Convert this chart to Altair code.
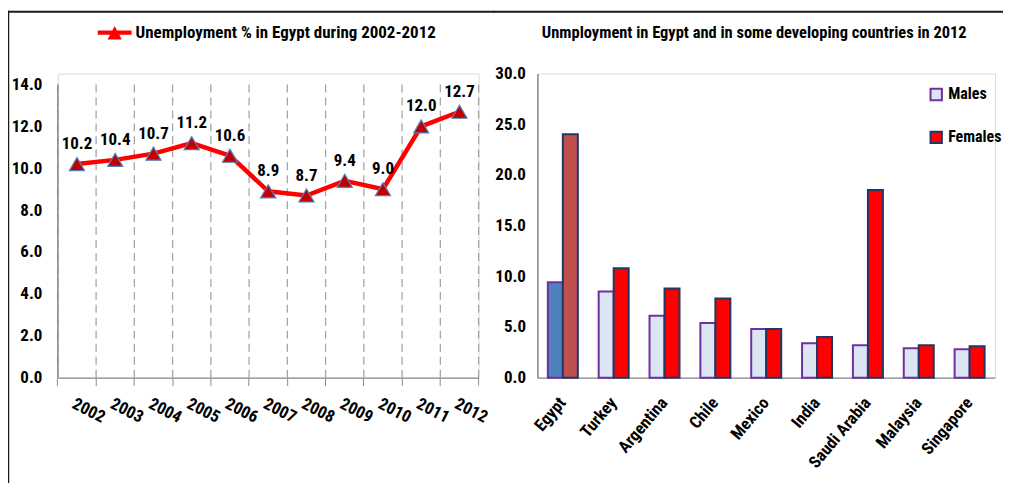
import altair as alt
import pandas as pd

# ---- data ----
years = ["2002", "2003", "2004", "2005", "2006", "2007", "2008", "2009", "2010", "2011", "2012"]
unemployment = [10.2, 10.4, 10.7, 11.2, 10.6, 8.9, 8.7, 9.4, 9.0, 12.0, 12.7]

countries = ["Egypt", "Turkey", "Argentina", "Chile", "Mexico", "India",
             "Saudi Arabia", "Malaysia", "Singapore"]
males = [9.4, 8.5, 6.1, 5.4, 4.8, 3.4, 3.2, 2.9, 2.8]
females = [24.0, 10.8, 8.8, 7.8, 4.8, 4.0, 18.5, 3.2, 3.1]

left_title = "Unemployment % in Egypt during 2002-2012"
right_title = "Unmployment in Egypt and in some developing countries in 2012"

FONT = "Roboto Condensed, DejaVu Sans Condensed, Liberation Sans, sans-serif"
GRAY = "#8c8c8c"
GRIDC = "#a6a6a6"
FRAME = "#1a1a1a"

# ---- left panel ----
df1 = pd.DataFrame({"year": years, "value": unemployment, "series": left_title})

W1, H = 422, 305
TOP1 = 11  # left plot starts lower than right one

xscale = alt.Scale(type="band", paddingInner=0, paddingOuter=0)
xl = alt.X("year:N", sort=years, title=None, scale=xscale,
           axis=alt.Axis(grid=False, bandPosition=0, ticks=True, tickSize=8, tickColor=GRAY,
                         domainColor=GRAY, domainWidth=1.5,
                         labelAngle=27, labelAlign="left", labelBaseline="top",
                         labelOffset=0, labelPadding=10,
                         labelFont=FONT, labelFontSize=17, labelFontWeight="bold",
                         labelColor="black"))
yl = alt.Y("value:Q", title=None,
           scale=alt.Scale(domain=[0, 14], range=[H, TOP1]),
           axis=alt.Axis(values=[0, 2, 4, 6, 8, 10, 12, 14], format=".1f", grid=False,
                         ticks=False, domain=False, labelPadding=16,
                         labelFont=FONT, labelFontSize=17, labelFontWeight="bold",
                         labelColor="black"))

base1 = alt.Chart(df1)
one1 = alt.Chart(df1.head(1))
grid = base1.mark_rule(strokeDash=[8, 5], color=GRIDC, strokeWidth=1.3).encode(
    x=alt.X("year:N", sort=years, bandPosition=0, scale=xscale, title=None),
    y=alt.value(TOP1), y2=alt.value(H))
last_grid = one1.mark_rule(strokeDash=[8, 5], color=GRIDC, strokeWidth=1.3).encode(
    x=alt.value(W1), y=alt.value(TOP1), y2=alt.value(H))
last_tick = one1.mark_rule(color=GRAY, strokeWidth=1).encode(
    x=alt.value(W1), y=alt.value(H), y2=alt.value(H + 8))
yaxis_line = one1.mark_rule(color=GRAY, strokeWidth=1.5).encode(
    x=alt.value(0), y=alt.value(TOP1), y2=alt.value(H))
frame_left = one1.mark_rule(color=FRAME, strokeWidth=2.5).encode(
    x=alt.value(-50), y=alt.value(-63), y2=alt.value(H + 120))
frame_top1 = one1.mark_rule(color=FRAME, strokeWidth=2).encode(
    x=alt.value(-51), x2=alt.value(W1 + 16), y=alt.value(-62))

line = base1.mark_line(strokeWidth=4.5).encode(
    x=xl, y=yl,
    color=alt.Color("series:N", scale=alt.Scale(range=["#FF0000"]),
                    legend=alt.Legend(title=None, orient="none", legendX=40, legendY=-58,
                                      symbolType="M-1,-0.13L1,-0.13L1,0.13L-1,0.13Z M-0.42,0.4L0,-0.4L0.42,0.4Z",
                                      symbolSize=1150, symbolFillColor="#FF0000",
                                      symbolStrokeWidth=0, symbolOpacity=1,
                                      labelFont=FONT, labelFontSize=17, labelFontWeight="bold",
                                      labelColor="black", labelLimit=500)))
pts = base1.mark_point(shape="triangle-up", filled=True, size=230, fill="#C00000",
                       stroke="#4F81BD", strokeWidth=1.2, opacity=1).encode(x=xl, y=yl)
labels1 = base1.mark_text(dy=-20, font=FONT, fontSize=17, fontWeight="bold",
                          color="black").encode(x=xl, y=yl, text=alt.Text("value:Q", format=".1f"))

left = alt.layer(frame_left, frame_top1, grid, last_grid, last_tick, yaxis_line,
                 line, pts, labels1).properties(width=W1, height=H)

# ---- right panel ----
rows = []
for c, m, f in zip(countries, males, females):
    rows.append({"country": c, "gender": "Males", "value": m,
                 "key": "Egypt Males" if c == "Egypt" else "Males"})
    rows.append({"country": c, "gender": "Females", "value": f,
                 "key": "Egypt Females" if c == "Egypt" else "Females"})
df2 = pd.DataFrame(rows)

key_domain = ["Males", "Females", "Egypt Males", "Egypt Females"]
fill_range = ["#DCE6F2", "#FF0000", "#4F81BD", "#C0504D"]
stroke_range = ["#7030A0", "#1F3864", "#7030A0", "#1F3864"]

legend2 = alt.Legend(title=None, values=["Males", "Females"], orient="none",
                     legendX=392, legendY=13, symbolType="square", symbolSize=130,
                     symbolStrokeWidth=2, rowPadding=23,
                     labelFont=FONT, labelFontSize=16, labelFontWeight="bold",
                     labelColor="black")

W2 = 459
bars = alt.Chart(df2).mark_bar(strokeWidth=2).encode(
    x=alt.X("country:N", sort=countries, title=None,
            scale=alt.Scale(paddingInner=0.41, paddingOuter=0.205),
            axis=alt.Axis(ticks=False, domainColor=GRAY, domainWidth=1.5,
                          labelAngle=-50, labelAlign="right", labelBaseline="middle",
                          labelPadding=22, labelFont=FONT, labelFontSize=17,
                          labelFontWeight="bold", labelColor="black")),
    xOffset=alt.XOffset("gender:N", sort=["Males", "Females"],
                        scale=alt.Scale(paddingInner=0, paddingOuter=0)),
    y=alt.Y("value:Q", title=None, scale=alt.Scale(domain=[0, 30]),
            axis=alt.Axis(values=[0, 5, 10, 15, 20, 25, 30], format=".1f", grid=False,
                          ticks=False, domainColor=GRAY, domainWidth=1.5, labelPadding=12,
                          labelFont=FONT, labelFontSize=17, labelFontWeight="bold",
                          labelColor="black")),
    fill=alt.Fill("key:N", scale=alt.Scale(domain=key_domain, range=fill_range), legend=legend2),
    stroke=alt.Stroke("key:N", scale=alt.Scale(domain=key_domain, range=stroke_range), legend=legend2),
)
one2 = alt.Chart(df2.head(1))
frame_top2 = one2.mark_rule(color=FRAME, strokeWidth=2).encode(
    x=alt.value(-44), x2=alt.value(W2 + 8), y=alt.value(-62))
title2 = one2.mark_text(font=FONT, fontSize=16.5, fontWeight="bold", color="black",
                        align="center", baseline="middle").encode(
    x=alt.value(W2 / 2 - 12), y=alt.value(-41), text=alt.value(right_title))

right = alt.layer(frame_top2, title2, bars).properties(width=W2, height=H)

chart = alt.hconcat(left, right, spacing=-5).resolve_scale(
    color="independent", fill="independent", stroke="independent"
).resolve_legend(color="independent", fill="independent", stroke="independent").properties(
    padding={"left": -3, "top": 0, "right": 0, "bottom": 0}
).configure_view(stroke=None).configure(background="white")

chart.save("out.html", embed_options={"renderer": "svg", "actions": False})
